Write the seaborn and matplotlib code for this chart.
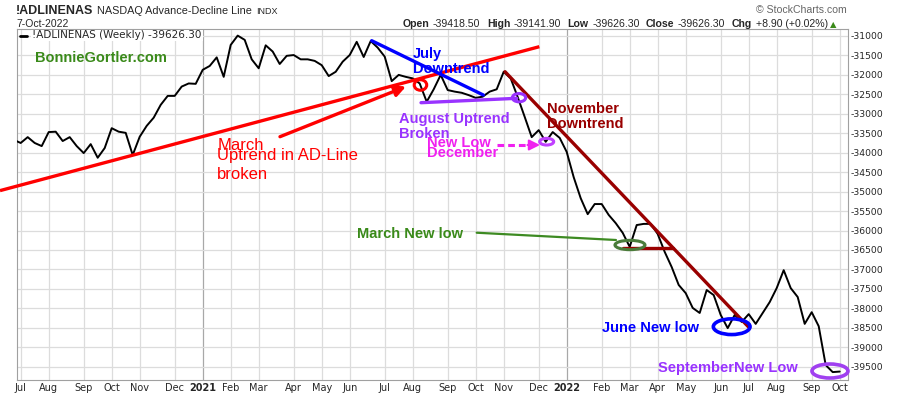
import matplotlib
matplotlib.use("Agg")
import matplotlib.pyplot as plt
import matplotlib.dates as mdates
from matplotlib.patches import Ellipse
from matplotlib.lines import Line2D
import seaborn as sns
import pandas as pd

# ---------------- data ----------------
first_week = "2020-06-29"          # weekly bars (week start dates)
adl_values = [
    -33670, -33750, -33600, -33750, -33830, -33470, -33460, -33700, -33600, -33830,
    -34010, -33780, -34130, -33880, -33370, -33460, -33490, -34060, -33590, -33310,
    -33100, -32770, -32540, -32540, -32300, -32220, -32230, -31870, -31770, -31550,
    -32050, -31230, -30990, -31100, -31600, -31830, -31240, -31400, -31720, -31510,
    -31490, -31600, -31600, -31640, -31750, -32030, -31920, -31660, -31490, -31150,
    -31540, -31130, -31300, -31530, -32160, -32000, -32050, -32090, -32220, -32690,
    -32370, -32000, -32390, -32430, -32460, -32520, -32590, -32560, -32430, -32370,
    -31920, -32090, -32570, -33080, -33600, -33420, -33720, -33470, -33620, -33980,
    -34630, -35170, -35580, -35320, -35320, -35600, -35810, -36060, -36420, -35860,
    -35830, -35830, -36090, -36550, -36940, -37400, -37610, -37990, -38120, -37530,
    -37660, -38170, -38510, -38170, -38350, -38150, -38400, -38120, -37840, -37480,
    -37020, -37480, -37710, -38400, -38100, -38460, -39460, -39640, -39626.30,
]
tick_dates = [
    "2020-07-06", "2020-08-03", "2020-09-07", "2020-10-05", "2020-11-02", "2020-12-07",
    "2021-01-04", "2021-02-01", "2021-03-01", "2021-04-05", "2021-05-03", "2021-05-31",
    "2021-07-05", "2021-08-02", "2021-09-06", "2021-10-04", "2021-11-01", "2021-12-06",
    "2022-01-03", "2022-02-07", "2022-03-07", "2022-04-04", "2022-05-02", "2022-06-06",
    "2022-07-04", "2022-08-01", "2022-09-05", "2022-10-03",
]
tick_labels = [
    "Jul", "Aug", "Sep", "Oct", "Nov", "Dec", "2021", "Feb", "Mar", "Apr", "May", "Jun",
    "Jul", "Aug", "Sep", "Oct", "Nov", "Dec", "2022", "Feb", "Mar", "Apr", "May", "Jun",
    "Jul", "Aug", "Sep", "Oct",
]
y_ticks = list(range(-31000, -39501, -500))

# ---------------- style ----------------
sns.set_style("white")
plt.rcParams['font.family'] = ['Liberation Sans', 'DejaVu Sans']

W_PX, H_PX = 900, 396
fig = plt.figure(figsize=(W_PX / 100, H_PX / 100), dpi=100)
ax = fig.add_axes([16.7 / W_PX, 1 - 380 / H_PX, (847.5 - 16.7) / W_PX, (380 - 29.3) / H_PX])

dates = pd.date_range(first_week, periods=len(adl_values), freq="7D")
df = pd.DataFrame({"date": dates, "value": adl_values})

ref = mdates.date2num(pd.Timestamp("2020-07-06"))


def wk(w):
    """x position w weeks after the first July 2020 bar"""
    return ref + 7.0 * w


# grid
tick_nums = [mdates.date2num(pd.Timestamp(d)) for d in tick_dates]
for t, lab in zip(tick_nums, tick_labels):
    ax.axvline(t, color='#a8a8a8' if lab.isdigit() else '#dcdcdc', lw=0.9, zorder=0)
for v in y_ticks:
    ax.axhline(v, color='#dcdcdc', lw=0.9, zorder=0)

sns.lineplot(data=df, x="date", y="value", ax=ax, color='black', lw=1.4, zorder=3)

ax.set_xlim(wk(-4 / 7), wk(826.8 / 7))
ax.set_ylim(-39843, -30828)
ax.set_xlabel("")
ax.set_ylabel("")

ax.yaxis.tick_right()
ax.set_yticks(y_ticks)
ax.set_yticklabels([str(v) for v in y_ticks], family='DejaVu Sans', fontsize=6.7)
ax.set_xticks(tick_nums)
ax.set_xticklabels(tick_labels, family='DejaVu Sans', fontsize=7)
for tl in ax.get_xticklabels():
    if tl.get_text().isdigit():
        tl.set_fontweight('bold')
ax.tick_params(axis='both', length=0, pad=2.5)
for s in ax.spines.values():
    s.set_color('#a0a0a0')
    s.set_linewidth(0.8)

# ---------------- annotations ----------------
RED = '#ff0000'
BLUE = '#0000ff'
PURPLE = '#9933ff'
MAGENTA = '#f020f0'
DARKRED = '#990000'
GREEN_T = '#3a8a1a'
GREEN_L = '#3d8a22'
BOLD = dict(fontsize=10.5, fontweight='bold', va='baseline', ha='left', clip_on=False, zorder=6)

# red long uptrend line + arrow + circle
ax.plot([wk(-2.957), wk(74.09)], [-34975, -31275], color=RED, lw=2.4, clip_on=False, zorder=4,
        solid_capstyle='butt')
ax.annotate("", xy=(wk(55.04), -32300), xytext=(wk(37.04), -33589),
            arrowprops=dict(arrowstyle='-|>', color=RED, lw=2.4, mutation_scale=16,
                            shrinkA=0, shrinkB=0), zorder=4)
ax.add_patch(Ellipse((wk(57.11), -32260), width=12.5, height=270, fill=False,
                     edgecolor=RED, lw=2.2, zorder=5))
ax.text(wk(28.09), -33918, "March", color=RED, fontsize=12, va='baseline', zorder=6)
ax.text(wk(28.09), -34188, "Uptrend in AD-Line", color=RED, fontsize=12, va='baseline', zorder=6)
ax.text(wk(28.09), -34684, "broken", color=RED, fontsize=12, va='baseline', zorder=6)

# July downtrend (blue)
ax.plot([wk(50.14), wk(66.09)], [-31121, -32517], color=BLUE, lw=2.4, zorder=4)
ax.text(wk(56.04), -31576, "July", color=BLUE, **BOLD)
ax.text(wk(56.04), -31964, "Downtrend", color=BLUE, **BOLD)

# August uptrend (purple)
ax.plot([wk(57.19), wk(70.86)], [-32715, -32602], color=PURPLE, lw=2.4, zorder=4)
ax.add_patch(Ellipse((wk(71.19), -32586), width=13.3, height=213, fill=False,
                     edgecolor=PURPLE, lw=2.2, zorder=5))
ax.text(wk(54.09), -33237, "August Uptrend", color=PURPLE, **BOLD)
ax.text(wk(54.09), -33632, "Broken", color=PURPLE, **BOLD)

# New low December (magenta)
ax.text(wk(58.09), -33853, "New Low", color=MAGENTA, **BOLD)
ax.text(wk(58.09), -34110, "December", color=MAGENTA, **BOLD)
ax.plot([wk(68.0), wk(72.6)], [-33802, -33802], color=MAGENTA, lw=2.2, ls=(0, (2.2, 1.3)),
        zorder=4)
ax.annotate("", xy=(wk(74.19), -33802), xytext=(wk(72.4), -33802),
            arrowprops=dict(arrowstyle='-|>', color=MAGENTA, lw=1.5, mutation_scale=16,
                            shrinkA=0, shrinkB=0), zorder=4)
ax.add_patch(Ellipse((wk(75.14), -33717), width=14, height=172, fill=False,
                     edgecolor='#c040ff', lw=2.2, zorder=5))

# November downtrend (dark red)
ax.plot([wk(69.19), wk(103.94)], [-31918, -38473], color=DARKRED, lw=2.4, zorder=4)
ax.plot([wk(86.09), wk(93.14)], [-36458, -36458], color=DARKRED, lw=2.4, zorder=4)
ax.text(wk(75.14), -32990, "November", color=DARKRED, **BOLD)
ax.text(wk(75.14), -33375, "Downtrend", color=DARKRED, **BOLD)

# March new low (green)
ax.text(wk(48.09), -36185, "March New low", color=GREEN_T, **BOLD)
ax.plot([wk(65.14), wk(85.04)], [-36057, -36244], color=GREEN_L, lw=1.6, zorder=4)
ax.add_patch(Ellipse((wk(87.04), -36373), width=30, height=240, fill=False,
                     edgecolor='#4a7c3a', lw=2.2, zorder=5))

# June new low (blue)
ax.text(wk(83.0), -38609, "June New low", color=BLUE, **BOLD)
ax.add_patch(Ellipse((wk(101.57), -38473), width=36.7, height=404, fill=False,
                     edgecolor=BLUE, lw=2.6, zorder=5))

# September new low (purple)
ax.text(wk(91.09), -39638, "SeptemberNew Low", color=PURPLE, **BOLD)
ax.add_patch(Ellipse((wk(115.61), -39612), width=36, height=360, fill=False,
                     edgecolor='#a040f0', lw=2.6, zorder=5, clip_on=False))

# watermark
ax.text(wk(2.04), -31668, "BonnieGortler.com", color=GREEN_T, **BOLD)

# ---------------- header ----------------
def fx(px):
    return px / W_PX


def fy(py):
    return 1 - py / H_PX


renderer = fig.canvas.get_renderer()


def seq(x_px, y_px, parts):
    x = x_px
    for s, gap, kw in parts:
        t = fig.text(fx(x), fy(y_px), s, va='baseline', ha='left', **kw)
        x += t.get_window_extent(renderer=renderer).width + gap
    return x


seq(16, 13.5, [("!ADLINENAS", 4, dict(fontsize=9, fontweight='bold')),
               ("NASDAQ Advance-Decline Line", 4, dict(fontsize=7.8)),
               ("INDX", 0, dict(fontsize=6.5))])
fig.text(fx(16), fy(27), "7-Oct-2022", fontsize=7.5, va='baseline')
B8 = dict(fontsize=7.6, fontweight='bold')
R8 = dict(fontsize=7.6)
end = seq(402.7, 27, [("Open", 3.5, B8), ("-39418.50", 6.5, R8),
                      ("High", 3.5, B8), ("-39141.90", 6.5, R8),
                      ("Low", 3.5, B8), ("-39626.30", 6.5, R8),
                      ("Close", 3.5, B8), ("-39626.30", 6.5, R8),
                      ("Chg", 3.5, B8), ("+8.90 (+0.02%)", 2.5, R8)])
fig.text(fx(end), fy(27), "\u25b2", fontsize=6, color='#3a8a1a', va='baseline',
         family='DejaVu Sans')
fig.text(fx(846.7), fy(12.7), "\u00a9 StockCharts.com", fontsize=7.6, color='#666666',
         ha='right', va='baseline')

# legend
fig.add_artist(Line2D([fx(20), fx(27)], [fy(35.5), fy(35.5)], color='black', lw=2))
fig.text(fx(32.3), fy(35.5), "!ADLINENAS (Weekly) -39626.30", family='DejaVu Sans',
         fontsize=7.5, va='center', ha='left',
         bbox=dict(facecolor='white', edgecolor='none', pad=0.6))

fig.savefig("out.png", dpi=100)
